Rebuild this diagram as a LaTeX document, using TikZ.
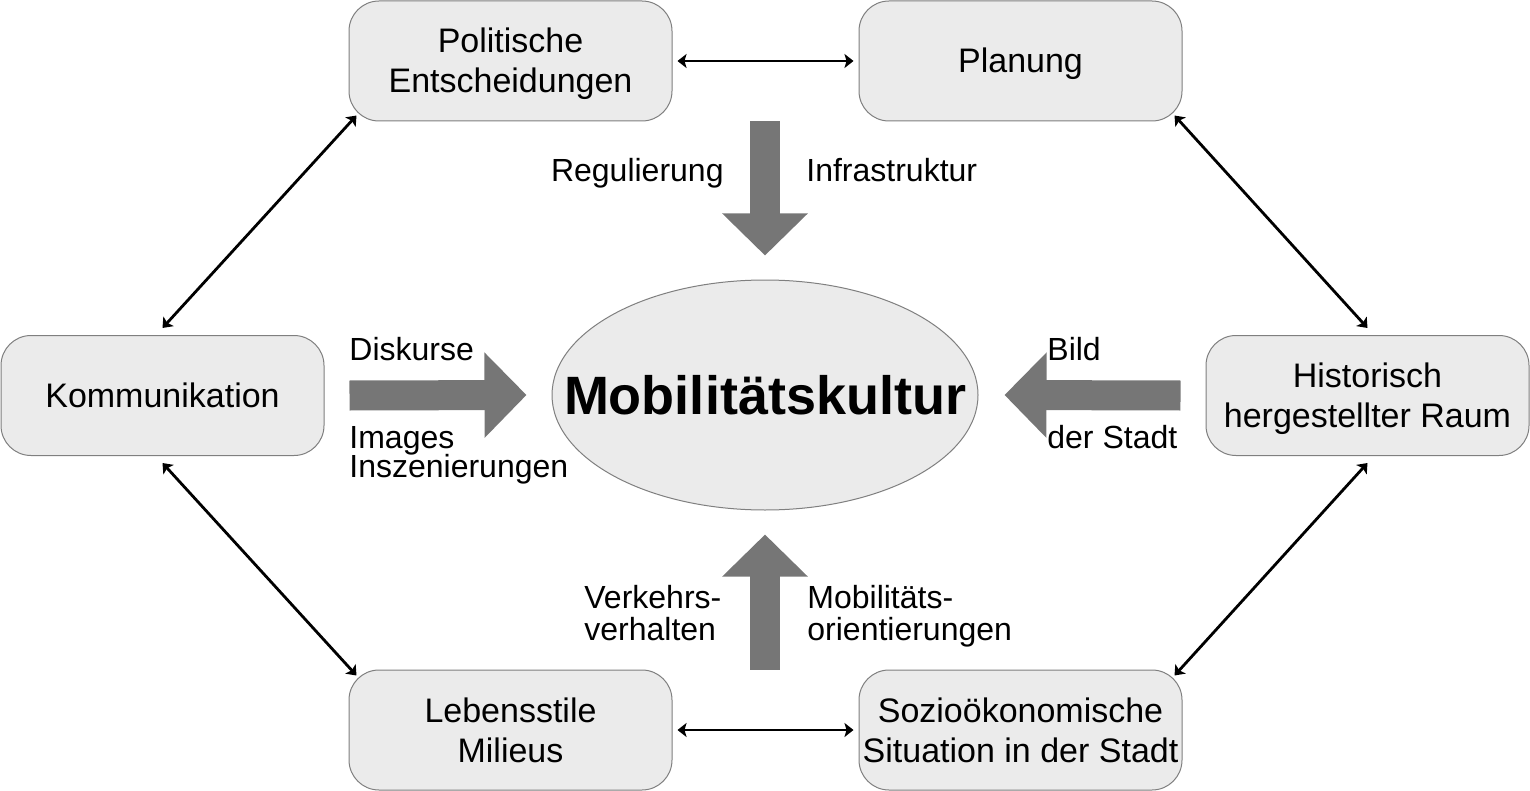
\documentclass[tikz,border=0pt]{standalone}
\usepackage{fontspec}
\setmainfont{Liberation Sans}
\usetikzlibrary{positioning,arrows.meta,shapes.geometric}

\definecolor{boxfill}{HTML}{EBEBEB}
\definecolor{boxline}{HTML}{7F7F7F}
\definecolor{fatgray}{HTML}{767676}

\newcommand{\boxstrut}{\rule[-4pt]{0pt}{20pt}}

\tikzset{
  box/.style={draw=boxline, fill=boxfill, line width=0.5pt, rounded corners=15pt,
    minimum width=161.5pt, minimum height=60pt, inner sep=0pt, align=center,
    font=\fontsize{17}{20}\selectfont, execute at end node=\boxstrut},
  kultur/.style={ellipse, draw=boxline, fill=boxfill, line width=0.5pt,
    minimum width=213pt, minimum height=115pt, inner sep=0pt,
    font=\fontsize{27}{32}\selectfont\bfseries},
  lbl/.style={inner sep=0pt, font=\fontsize{16}{16}\selectfont},
  link/.style={{Stealth[length=4.5pt,width=7pt,inset=1pt]}-{Stealth[length=4.5pt,width=7pt,inset=1pt]}, line width=1.4pt},
  fat/.style={-{Triangle[length=21pt,width=41.5pt]}, line width=15pt, draw=fatgray},
}

\begin{document}
\begin{tikzpicture}[x=0.5pt, y=-0.5pt, node distance=93pt]
    \useasboundingbox (0,0) rectangle (1530,791);

    \node [box] (pol) at (510.5,61) {\boxstrut Politische\\Entscheidungen};
    \node [box] [right=of pol] (plan) {\boxstrut Planung};
    \node [box] (kom) at (162.5,395.5) {\boxstrut Kommunikation};
    \node [box] (hist) at (1367.5,395.5) {\boxstrut Historisch\\hergestellter Raum};
    \node [box] (leb) at (510.5,730) {\boxstrut Lebensstile\\Milieus};
    \node [box] [right=of leb] (sozio) {\boxstrut Sozioökonomische\\Situation in der Stadt};
    \node [kultur] (mk) at (765,395) {\makebox[0pt]{Mobilitätskultur}};

    % thin links between the boxes
    \draw[link, shorten <=2.5pt, shorten >=2.5pt] (pol) -- (plan);
    \draw[link, shorten <=2.5pt, shorten >=2.5pt] (leb) -- (sozio);
    \draw[link] ([yshift=3.5pt]kom.north) -- ([xshift=4pt,yshift=3pt]pol.south west);
    \draw[link] ([yshift=-3.5pt]kom.south) -- ([xshift=4pt,yshift=-3pt]leb.north west);
    \draw[link] ([xshift=-4pt,yshift=3pt]plan.south east) -- ([yshift=3.5pt]hist.north);
    \draw[link] ([yshift=-3.5pt]hist.south) -- ([xshift=-4pt,yshift=-3pt]sozio.north east);

    % fat arrows into the centre
    \draw[fat] (pol.south -| mk.north) -- ([yshift=12pt]mk.north);
    \draw[fat] (leb.north -| mk.south) -- ([yshift=-12pt]mk.south);
    \draw[fat] ([xshift=12.5pt]kom.east) -- ([xshift=-12.5pt]mk.west);
    \draw[fat] ([xshift=-12.5pt]hist.west) -- ([xshift=13pt]mk.east);

    \node [lbl, anchor=base east] (reg) at (724,182) {Regulierung};
    \node [lbl, anchor=base west] (infra) at (806,182) {Infrastruktur};
    \node [lbl, anchor=base west] (disk) at (349,360) {Diskurse};
    \node [lbl, anchor=base west] (img) at (349,448) {Images};
    \node [lbl, anchor=base west] (insz) at (349,477) {Inszenierungen};
    \node [lbl, anchor=base west] (bild) at (1047,360) {Bild};
    \node [lbl, anchor=base west] (stadt) at (1047,448) {der Stadt};
    \node [lbl, anchor=base west] (verk) at (584,608) {Verkehrs-};
    \node [lbl, anchor=base west] (verh) at (584,640) {verhalten};
    \node [lbl, anchor=base west] (mob) at (807,608) {Mobilitäts-};
    \node [lbl, anchor=base west] (orient) at (807,640) {orientierungen};
\end{tikzpicture}
\end{document}
